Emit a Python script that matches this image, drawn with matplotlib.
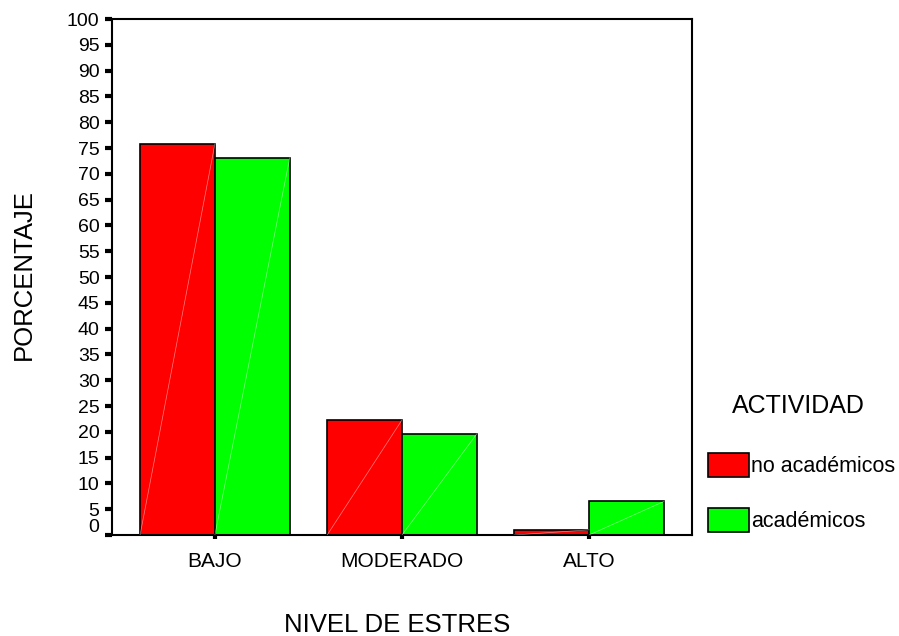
import numpy as np
import matplotlib
matplotlib.use("Agg")
import matplotlib.pyplot as plt
from matplotlib.patches import Patch
from matplotlib.transforms import ScaledTranslation

plt.rcParams['font.family'] = ['Liberation Sans', 'DejaVu Sans']

# Data
categories = ['BAJO', 'MODERADO', 'ALTO']
no_academicos = [75.8, 22.3, 1.0]
academicos = [73.1, 19.6, 6.5]
series_names = ['no académicos', 'académicos']
colors = ['#ff0000', '#00ff00']
yticks = list(range(0, 101, 5))

fig = plt.figure(figsize=(8.99, 6.36), dpi=100)
ax = fig.add_axes([0.1246, 0.1588, 0.6451, 0.8113])

x = np.arange(len(categories))
w = 0.4
bars1 = ax.bar(x - w / 2, no_academicos, w, color=colors[0], edgecolor='black', linewidth=1.2)
bars2 = ax.bar(x + w / 2, academicos, w, color=colors[1], edgecolor='black', linewidth=1.2)

# faint diagonal line inside each bar (as in the original export)
for b in list(bars1) + list(bars2):
    x0, h, bw = b.get_x(), b.get_height(), b.get_width()
    ax.plot([x0, x0 + bw], [0, h], color='white', lw=0.5, alpha=0.5, zorder=3)

ax.set_xlim(-0.55, 2.55)
ax.set_ylim(0, 100)
ax.set_yticks(yticks)
ax.set_xticks(x)
ax.set_xticklabels(categories, fontsize=15)
ax.tick_params(axis='y', labelsize=14, length=5, width=3, direction='out', pad=4)
ax.tick_params(axis='x', length=3, width=3, direction='out', pad=9)
for sp in ax.spines.values():
    sp.set_linewidth(1.5)

# the "0" label sits a little above its tick in the original
lab0 = ax.get_yticklabels()[0]
lab0.set_transform(lab0.get_transform() + ScaledTranslation(0, 6.5 / 72, fig.dpi_scale_trans))

fig.text(0.442, 0.018, 'NIVEL DE ESTRES', fontsize=18.5, ha='center', va='center')
fig.text(0.027, 0.569, 'PORCENTAJE', fontsize=18.5, ha='center', va='center', rotation=90)

handles = [Patch(facecolor=colors[0], edgecolor='black', linewidth=1.2),
           Patch(facecolor=colors[1], edgecolor='black', linewidth=1.2)]
fig.text(0.888, 0.3624, 'ACTIVIDAD', fontsize=18, ha='center', va='center')
fig.legend(handles, series_names, loc='upper left', bbox_to_anchor=(0.7875, 0.2877),
           frameon=False, fontsize=15.5, handlelength=1.9, handleheight=1.32,
           handletextpad=0.1, labelspacing=1.45, borderpad=0, borderaxespad=0)

fig.savefig('out.png', dpi=100)
